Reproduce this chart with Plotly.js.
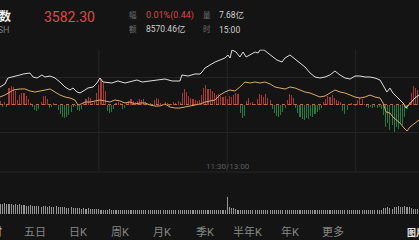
<!DOCTYPE html>
<html>
<head>
<meta charset="utf-8">
<script src="https://cdn.plot.ly/plotly-3.0.1.min.js"></script>
<style>
html,body{margin:0;padding:0;background:#141414;overflow:hidden;}
#chart{width:419px;height:240px;}
</style>
</head>
<body>
<div id="chart"></div>
<script>
// ---- data ----
const prevClose = 3581.86;
const lastPrice = "3582.30";
const changeText = "0.01%(0.44)";
const amountText = "8570.46亿";
const volumeText = "7.68亿";
const timeText = "15:00";
const tabLabels = ["五日", "日K", "周K", "月K", "季K", "半年K", "年K", "更多"];
const tabCenters = [35, 78, 120, 162, 205, 248, 290, 333];

// weighted index (white line): minute of session, value
const priceMinutes = [13.8,16.1,17.5,19.9,23.1,24.6,27.8,29.2,31.1,33.4,34.8,37.2,39.5,41.8,44.2,46.5,47.9,49.8,51.2,53.5,54.9,57.3,59.1,60.5,61.9,66.1,68.9,72.2,74.5,77.8,80.2,83.9,87.2,90.9,94.2,97.9,98.8,101.7,104.9,107.3,108.2,109.6,111.9,114.3,116.6,118.9,120.3,121.3,122.2,124.1,125.9,127.4,128.8,130.6,133.0,134.4,135.3,137.2,139.0,140.9,143.2,145.6,147.0,149.3,151.7,154.0,156.3,158.7,161.0,163.3,165.7,168.0,170.3,172.7,175.0,177.4,179.7,182.0,184.4,186.7,189.0,191.4,192.8,194.6,196.0,197.4,199.3,200.7,202.6,203.5,205.4,207.7,209.6];
const priceValues = [3588.22,3589.31,3591.50,3591.86,3592.59,3592.95,3593.31,3591.86,3591.50,3592.59,3591.86,3592.22,3591.50,3590.04,3588.22,3587.13,3587.86,3586.41,3586.04,3587.13,3587.86,3588.22,3589.68,3591.50,3590.04,3589.68,3590.41,3589.68,3590.04,3590.77,3590.04,3590.41,3590.77,3591.13,3590.41,3590.41,3592.59,3592.22,3592.95,3592.95,3593.68,3595.13,3596.22,3597.31,3598.04,3598.77,3599.86,3598.77,3601.68,3600.95,3599.13,3600.95,3599.13,3599.86,3600.95,3600.59,3601.68,3601.68,3600.59,3599.13,3598.04,3597.31,3598.77,3599.86,3598.41,3596.95,3595.50,3593.31,3591.86,3591.50,3591.86,3592.59,3594.04,3592.59,3591.50,3591.13,3592.22,3592.22,3591.86,3591.86,3591.50,3590.77,3588.95,3586.41,3587.86,3586.04,3584.59,3583.50,3582.04,3580.59,3582.41,3584.22,3585.31];

// equal-weight index (orange line)
const avgMinutes = [13.8,16.1,18.5,19.9,23.1,25.5,27.8,30.2,32.5,34.8,37.2,39.5,41.8,44.2,46.5,48.8,50.2,51.7,53.5,55.9,58.2,60.5,62.9,65.2,67.5,69.9,72.2,74.5,76.9,79.2,81.6,83.9,86.2,88.6,90.9,93.2,95.6,97.9,100.2,102.6,104.9,107.3,109.6,111.9,114.3,116.6,118.9,121.3,123.6,125.9,128.3,130.6,133.0,135.3,137.6,140.0,142.3,144.6,147.0,149.3,151.7,154.0,156.3,158.7,161.0,163.3,165.7,168.0,170.3,172.7,175.0,177.4,179.7,182.0,184.4,186.7,189.0,191.4,192.8,194.2,196.0,197.4,199.3,200.7,202.6,204.0,205.4,207.7,209.6];
const avgValues = [3584.59,3585.31,3586.41,3587.13,3587.50,3587.50,3586.77,3586.41,3586.77,3587.13,3587.50,3586.41,3585.31,3584.59,3584.22,3583.50,3581.68,3582.04,3582.77,3582.77,3583.13,3583.50,3583.13,3582.77,3583.50,3583.13,3582.41,3582.77,3582.04,3582.41,3582.41,3581.68,3581.31,3581.31,3582.04,3580.95,3580.59,3580.59,3580.95,3581.31,3581.68,3582.04,3582.77,3583.13,3583.50,3585.31,3586.41,3587.13,3586.77,3588.22,3590.04,3589.68,3590.04,3589.68,3590.04,3589.31,3588.22,3587.86,3587.50,3588.22,3587.86,3587.13,3586.41,3586.04,3585.31,3584.59,3584.95,3586.04,3587.13,3586.41,3586.04,3585.31,3584.59,3584.22,3584.59,3585.31,3584.59,3584.22,3582.41,3579.13,3578.77,3577.31,3576.22,3575.13,3573.31,3572.22,3573.68,3575.13,3576.22];

// per-minute buy/sell strength bars, starting at minute 14
const startMinute = 14;
const strength = [4,-2,3,-2,17,19,18,14,5,10,12,12,9,6,2,-2,-5,-6,-4,3,9,9,6,-3,-2,2,1,-5,-9,-12,-13,-12,-10,-7,-2,-1,-5,-6,-4,2,6,8,7,2,3,12,20,26,22,14,-6,-8,-7,-4,2,3,2,-4,-3,2,4,6,4,3,4,6,5,6,3,1,2,-1,5,7,6,2,1,3,2,-2,1,3,2,4,3,12,16,13,9,7,6,5,4,5,10,17,20,16,16,14,12,10,11,9,8,9,6,9,8,10,12,11,-8,-13,-11,4,7,2,3,1,6,11,10,8,11,7,5,-4,-8,-11,-12,-10,-7,-3,5,11,10,7,-3,-8,-12,-14,-15,-13,-14,-11,-12,-9,-7,-5,-3,3,6,9,8,10,7,5,4,3,-6,-9,-5,1,2,1,-1,5,7,6,1,-2,-3,-2,-3,-2,-3,-2,-4,-10,-22,-18,-25,-20,-27,-22,-24,-18,-20,-12,-4,3,12,19,17,15];

// per-minute volume (万手), starting at minute 14
const volume = [610,590,640,600,580,620,570,600,560,590,540,560,
500,480,520,470,490,460,500,450,480,470,440,460,430,450,470,420,440,410,430,
380,360,400,350,370,340,360,330,350,320,340,310,330,300,320,290,
270,250,260,240,280,250,230,260,240,250,230,260,240,220,250,240,260,230,240,250,220,240,230,250,260,230,240,220,250,240,230,240,260,230,220,240,250,230,240,220,230,250,240,220,230,240,250,230,220,240,230,220,240,230,250,220,230,240,220,
1020,420,380,340,
300,260,250,240,270,260,250,240,260,250,240,230,250,240,260,250,230,240,250,260,240,230,250,240,220,240,250,230,240,260,250,240,230,240,250,230,240,220,240,250,230,240,220,230,250,240,230,220,240,230,250,240,230,220,240,250,230,240,230,220,240,250,230,240,230,220,240,250,260,
380,360,400,350,330,420,450,480,400,430,460,440,410,380,320,300,290];

// ---- layout helpers ----
const W = 419, H = 240;
const px = v => v / W;
const py = v => 1 - v / H;
const barX = strength.map((_, i) => startMinute + i);
const volX = volume.map((_, i) => startMinute + i);

const traces = [
  {type: 'bar', x: barX, y: strength, xaxis: 'x', yaxis: 'y', width: 0.5,
   marker: {color: strength.map(v => v >= 0 ? 'rgba(192,62,62,0.85)' : 'rgba(44,140,72,0.85)'), line: {width: 0}},
   hoverinfo: 'skip'},
  {type: 'scatter', mode: 'lines', x: avgMinutes, y: avgValues, xaxis: 'x', yaxis: 'y2',
   line: {color: '#d9aa6a', width: 1}, hoverinfo: 'skip'},
  {type: 'scatter', mode: 'lines', x: priceMinutes, y: priceValues, xaxis: 'x', yaxis: 'y2',
   line: {color: '#dedede', width: 1}, hoverinfo: 'skip'},
  {type: 'bar', x: volX, y: volume, xaxis: 'x2', yaxis: 'y3', width: 0.5,
   marker: {color: '#969696', line: {width: 0}}, hoverinfo: 'skip'}
];

const fontFam = "Roboto, 'Noto Sans CJK SC', sans-serif";
const ann = (text, x, y, size, color, anchor, extra) => Object.assign({
  text: text, xref: 'paper', yref: 'paper', x: px(x), y: py(y),
  xanchor: anchor || 'left', yanchor: 'middle', showarrow: false,
  font: {family: fontFam, size: size, color: color}
}, extra || {});

const annotations = [
  ann('<b>上证指数</b>', 13, 16.5, 12, '#eeeeee', 'right'),
  ann('000001.SH', 12, 29.5, 9, '#7a7a7a', 'right'),
  ann(lastPrice, 42, 17, 14, '#e0474c'),
  ann('幅', 127, 15.5, 7.5, '#6e6e6e'),
  ann(changeText, 144, 16, 9, '#d9474c'),
  ann('额', 127, 29, 7.5, '#6e6e6e'),
  ann(amountText, 144, 29, 8.5, '#d0d0d0'),
  ann('量', 201, 15.5, 7.5, '#6e6e6e'),
  ann(volumeText, 217, 15.5, 8.5, '#d0d0d0'),
  ann('时', 201, 29, 7.5, '#6e6e6e'),
  ann(timeText, 217, 29.5, 8.5, '#d0d0d0'),
  ann('11:30/13:00', 228, 166, 8, '#5e5e5e', 'center'),
  ann('分时', 4, 232, 11, '#e6e6e6', 'right'),
  ann('<b>图片</b>', 405, 232, 9, '#e6e6e6')
];
tabLabels.forEach((t, i) => annotations.push(ann(t, tabCenters[i], 232, 11, '#858585', 'center')));

const gridColor = '#252525';
const shapes = [];
[60, 120, 180].forEach(m => shapes.push({type: 'line', xref: 'x', yref: 'paper', x0: m, x1: m,
  y0: py(172), y1: py(49.5), line: {color: gridColor, width: 1}, layer: 'below'}));
shapes.push({type: 'line', xref: 'paper', yref: 'paper', x0: 0, x1: 1, y0: py(172), y1: py(172),
  line: {color: gridColor, width: 1}, layer: 'below'});
shapes.push({type: 'line', xref: 'paper', yref: 'y2', x0: 0, x1: 1, y0: prevClose, y1: prevClose,
  line: {color: '#b5723a', width: 1, dash: 'dot'}});

const mainDomain = [py(159.5), py(49.5)];
const layout = {
  width: W, height: H,
  margin: {l: 0, r: 0, t: 0, b: 0, pad: 0},
  paper_bgcolor: '#141414', plot_bgcolor: '#141414',
  showlegend: false, bargap: 0,
  xaxis: {range: [13.8, 209.6], domain: [0, 1], showticklabels: false, showgrid: false,
          zeroline: false, showline: false, ticks: '', fixedrange: true},
  xaxis2: {range: [13.8, 209.6], domain: [0, 1], anchor: 'y3', matches: 'x', showticklabels: false,
           showgrid: false, zeroline: false, showline: false, ticks: ''},
  yaxis: {domain: mainDomain, range: [-55, 55], tickvals: [-55, -27.5, 27.5, 55], showgrid: true,
          gridcolor: gridColor, gridwidth: 1, showticklabels: false, zeroline: false, showline: false, ticks: ''},
  yaxis2: {overlaying: 'y', range: [prevClose - 20, prevClose + 20], showgrid: false,
           showticklabels: false, zeroline: false, showline: false, ticks: ''},
  yaxis3: {domain: [py(214), py(172)], range: [0, 2520], anchor: 'x2', showgrid: false,
           showticklabels: false, zeroline: false, showline: false, ticks: ''},
  annotations: annotations,
  shapes: shapes
};

Plotly.newPlot('chart', traces, layout, {displayModeBar: false, staticPlot: true});
</script>
</body>
</html>
